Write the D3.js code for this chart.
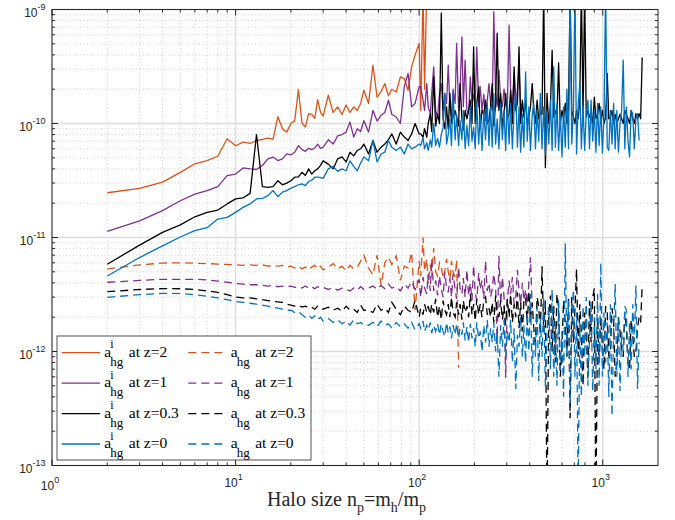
<!DOCTYPE html>
<html>
<head>
<meta charset="utf-8">
<script src="https://cdn.jsdelivr.net/npm/d3@7"></script>
<style>
  body { margin: 0; background: #fff; }
</style>
</head>
<body>
<div id="chart"></div>
<script>
// halo size n_p, shared by every series (each series uses the first values)
const np = [2,3,4,5,6,7,8,9,10,11,12,13,14,15,16,17,18,19,20,
  21,22,23,24,25,26,27,28,29,30,
  32,34,36,38,40,42,44,46,48,50,
  53,56,59,62,65,68,71,75,79,83,87,91,95,100,
  102,105,107,110,112,115,117,120,123,126,
  129,132,135,138,141,144,147,150,153,157,
  160,164,167,171,174,178,182,186,190,194,
  198,202,206,211,215,220,225,230,235,240,
  245,250,255,261,266,272,278,284,290,296,
  302,309,315,322,329,336,343,350,357,365,
  372,380,388,396,404,413,421,430,439,448,
  457,467,477,487,497,508,519,530,541,552,
  563,575,587,600,612,625,638,651,664,678,
  692,706,720,735,750,765,781,797,813,830,
  847,864,882,900,918,937,956,976,996,1016,
  1037,1058,1079,1101,1123,1146,1169,1193,1217,1242,
  1267,1293,1319,1346,1373,1400,1428,1457,1486,1516,
  1547,1578,1609,1640];

// a_hg^i (solid), in units of 1e-12
const aiZ2 = [24.7,27,30.6,37.3,44.3,47.3,51.6,73.5,63.8,68.6,66.8,71,72.4,74.5,73,115,90,84,100,
  106,198,101,93,122,120,111,162,126,116,
  177,125,140,120,145,125,140,130,150,196,
  150,325,170,190,224,175,200,189,256,248,196,314,398,504,
  130,1500,200,1500];
const aiZ1 = [11.3,14,17.2,21,24,25.8,27.9,34.9,36,40.8,40,39.5,42.8,49,50.8,47.3,49,54.2,53,
  56,64,59,57,60.6,59,61,66,60.6,62,
  72,66,78,80,84,103,76,90,85,106,
  84,130,105,118,125,160,120,114,100,210,275,140,150,210,
  210,160,130,224,140,122,180,314,130,114,
  180,224,130,184,150,325,140,114,200,150,
  504,130,200,576,140,360,130,122,256,150,
  180,140,470,140,210,130,180,106,160,224,
  150,130,956,183,140,294,160,140,200,150,
  130,730,184,140,275,130,200,314,140,150];
const aiZ03 = [5.83,8.57,11.1,12.9,15.2,16.6,17.4,19.7,21.8,22.3,24.4,80,27.9,27.5,27.9,31.5,29,30,31.5,
  33.8,34,37.3,35,40,36,38.5,40,43,47,
  44,40,49,51,46,56,52,58,60,66,
  54,71,56,62,66,72,81,66,84,76,71,81,100,81,
  81,76,90,76,100,122,85,256,95,122,
  100,930,110,90,140,90,184,100,114,130,
  114,95,224,110,88,130,110,130,160,100,
  470,100,150,210,90,130,120,160,100,106,
  140,224,95,150,620,130,184,92,122,184,
  110,122,196,100,314,130,150,470,100,160,
  114,160,100,114,140,224,130,100,160,110,
  130,120,1500,41,184,100,140,440,114,130,
  114,340,100,130,110,150,100,130,1500,130,
  114,100,130,110,160,1500,120,1500,114,130,
  114,122,100,170,110,120,150,110,130,100,
  114,275,110,114,130,100,120,100,110,120,
  110,100,130,120,110,100,130,110,100,122,
  110,122,110,380];
const aiZ0 = [4.6,6.67,8.45,10.1,11.5,12.2,14.5,15,16.6,18.4,19.7,21.8,22,23.3,25.8,22.8,25,25.8,27.1,
  27.9,29,29.5,28.5,31,31.8,33.8,33.8,33.5,33,
  40,42,38,40,38.5,47,42,38.5,45,51,
  47,71,46,54,56,71,62,58,62,54,66,60,62,66,
  64,75,60,68,58,72,62,100,64,74,
  62,80,92,184,66,80,110,64,188,72,
  120,64,106,72,130,60,96,64,140,70,
  93,60,150,66,120,58,130,72,150,64,
  140,62,184,66,110,60,150,72,130,58,
  160,66,150,60,130,184,62,140,56,120,
  62,283,70,140,58,120,150,60,130,70,
  184,60,140,54,130,66,160,58,314,62,
  150,58,120,51,140,62,200,60,1500,66,
  130,1500,54,150,224,60,140,58,120,160,
  60,160,70,130,56,150,64,140,55,120,
  1500,62,58,130,66,150,60,130,56,100,
  130,360,60,140,70,51,130,122,60,110,
  122,71];

// a_hg (dashed), in units of 1e-12
const aZ2 = [5.3,5.75,5.97,6.0,5.95,5.9,5.85,5.8,5.75,5.7,5.75,5.7,5.75,5.6,5.7,5.6,5.7,5.5,5.6,
  5.4,5.6,5.3,5.5,5.2,5.5,5.7,5.3,5.6,5.2,
  5.5,5.9,5.3,5.6,5.1,5.7,5.3,5.5,6.2,7.0,
  5.4,4.7,7.0,3.8,6.0,6.7,5.8,6.9,4.2,5.6,5.4,7.4,2.3,6.2,
  4.6,10,5.1,6.5,3.9,5.8,4.5,8.1,5.0,4.6,
  6.0,5.5,4.4,5.1,6.5,5.0,4.3,6.2,5.0,4.5,
  6.4,0.72];
const aZ1 = [4.05,4.2,4.3,4.3,4.3,4.25,4.15,4.05,3.95,3.9,3.85,3.85,3.8,3.75,3.8,3.7,3.75,3.7,3.75,
  3.65,3.7,3.6,3.75,3.6,3.7,3.55,3.7,3.6,3.65,
  3.5,3.65,3.45,3.6,3.5,3.4,3.6,3.45,3.7,3.5,
  3.6,3.75,3.5,3.8,3.55,3.9,3.6,3.7,3.4,3.9,3.6,4.1,3.5,4.3,
  3.0,4.5,3.6,3.2,4.8,3.4,6.5,3.4,4.2,3.1,
  4.6,3.5,3.0,5.0,3.6,3.3,4.4,3.0,4.8,3.5,
  2.9,5.5,3.6,3.2,4.4,3.0,5.2,3.1,4.0,2.8,
  5.7,3.3,2.8,4.9,3.5,4.2,2.9,6.2,3.4,4.0,
  3.0,3.5,4.8,3.6,1.15,6.9,2.6,4.5,3.0,0.59,
  2.7,4.2,3.2,4.5,2.6,3.0,5.2,3.4,2.6,4.0,
  2.8,3.5,2.6,4.0,6.7,2.4];
const aZ03 = [3.35,3.5,3.56,3.55,3.5,3.4,3.3,3.15,3.0,2.95,2.95,2.9,2.85,2.8,2.75,2.73,2.7,2.6,2.55,
  2.5,2.55,2.45,2.5,2.4,2.45,2.35,2.5,2.4,2.35,
  2.45,2.3,2.4,2.25,2.5,2.3,2.35,2.2,2.55,2.3,
  2.3,2.2,2.6,2.3,2.4,2.2,2.7,2.35,2.1,2.5,2.3,2.2,2.8,2.0,
  2.4,2.1,2.6,2.2,2.5,2.1,2.6,2.2,2.9,2.0,
  2.5,1.9,2.8,2.3,2.1,2.6,2.0,3.0,2.2,2.0,
  2.7,2.1,2.6,1.9,2.8,2.2,2.5,2.0,3.2,2.1,
  2.6,1.85,2.9,2.1,2.6,2.0,2.8,3.0,2.1,2.4,
  2.0,2.7,1.8,3.1,2.2,2.0,2.8,1.9,2.5,1.7,
  2.9,2.0,3.2,1.8,2.6,2.0,3.3,1.6,2.7,1.5,
  2.8,3.0,1.7,3.4,1.9,2.7,1.6,1.2,3.0,2.5,
  1.4,5.6,1.5,2.8,0.04,2.0,3.1,1.0,2.5,0.8,
  3.2,2.4,0.6,1.1,2.8,1.8,0.9,3.0,0.26,3.0,
  1.2,2.4,5.3,0.9,2.6,1.4,0.5,2.2,1.5,0.6,
  2.8,1.2,3.0,3.6,0.04,2.0,0.8,2.0,1.1,0.7,
  2.5,2.2,0.9,1.0,2.4,1.8,0.6,0.8,2.0,1.5,
  1.0,0.9,2.2,1.6,0.8,0.7,1.9,1.4,0.9,1.0,
  1.6,2.0,1.8,3.8];
const aZ0 = [2.99,3.15,3.24,3.22,3.15,3.05,2.95,2.85,2.75,2.7,2.65,2.6,2.55,2.5,2.45,2.4,2.35,2.3,2.3,
  2.2,2.25,2.1,2.0,2.1,1.95,2.05,1.9,2.0,1.85,
  1.95,1.8,1.9,1.75,1.85,1.7,1.9,1.75,1.8,1.7,
  1.7,1.8,1.65,1.85,1.7,1.75,1.6,1.8,1.65,1.75,1.6,1.8,1.55,1.75,
  1.6,1.85,1.5,1.7,1.55,1.8,1.45,1.7,1.5,1.75,
  1.4,1.75,1.5,1.35,1.8,1.45,1.65,1.3,1.7,1.4,
  1.75,1.3,1.6,1.4,1.8,1.25,1.65,1.2,1.75,1.3,
  1.6,1.1,1.8,1.3,1.5,1.0,1.7,1.2,1.9,1.1,
  1.6,1.2,1.8,1.0,1.5,0.6,1.7,1.1,1.9,0.9,
  1.5,1.2,1.9,0.8,1.6,0.47,1.4,1.1,2.0,0.9,
  1.7,0.8,2.2,1.0,3.2,0.6,1.6,0.9,2.5,0.55,
  2.0,0.9,3.0,0.5,1.5,2.5,0.7,3.5,0.6,1.8,
  0.5,2.8,0.7,1.5,0.4,8.9,0.9,2.8,0.35,1.6,
  3.5,0.6,2.2,0.06,1.8,0.4,2.5,0.9,3.0,0.5,
  1.3,2.8,0.45,2.0,0.7,3.2,0.5,6.0,0.6,2.2,
  0.8,1.8,0.4,2.6,0.27,1.5,3.9,0.6,2.0,0.45,
  1.5,1.0,2.5,2.3,0.6,1.8,0.7,2.6,1.2,3.8,
  0.47,1.2];

const redshifts = ["2", "1", "0.3", "0"];
const colors = ["#D95319", "#7E2F8E", "#000000", "#0072BD"];
const xTicks = [1, 10, 100, 1000];
const xTickExp = ["0", "1", "2", "3"];
const yTicks = [1e-13, 1e-12, 1e-11, 1e-10, 1e-9];
const yTickExp = ["-13", "-12", "-11", "-10", "-9"];

const width = 675, height = 520;
const L = 52, R = 658, T = 9.5, B = 465.5;

const x = d3.scaleLog().domain([1, 2000]).range([L, R]);
const y = d3.scaleLog().domain([1e-13, 1e-9]).range([B, T]);

const svg = d3.select("#chart").append("svg")
    .attr("width", width)
    .attr("height", height)
    .style("font-family", "'Liberation Sans', Arial, sans-serif");

// minor tick positions (2..9 times each decade)
const minorX = [], minorY = [];
xTicks.forEach(d => { for (let k = 2; k <= 9; k++) if (d * k < 2000) minorX.push(d * k); });
yTicks.slice(0, -1).forEach(d => { for (let k = 2; k <= 9; k++) minorY.push(d * k); });

// grid
const grid = svg.append("g");
grid.selectAll(".gxm").data(minorX).join("line")
    .attr("x1", d => x(d)).attr("x2", d => x(d)).attr("y1", T).attr("y2", B)
    .attr("stroke", "#c4c4c4").attr("stroke-width", 0.8).attr("stroke-dasharray", "1,2.5");
grid.selectAll(".gym").data(minorY).join("line")
    .attr("y1", d => y(d)).attr("y2", d => y(d)).attr("x1", L).attr("x2", R)
    .attr("stroke", "#c4c4c4").attr("stroke-width", 0.8).attr("stroke-dasharray", "1,2.5");
grid.selectAll(".gx").data(xTicks).join("line")
    .attr("x1", d => x(d)).attr("x2", d => x(d)).attr("y1", T).attr("y2", B)
    .attr("stroke", "#dcdcdc").attr("stroke-width", 1.3);
grid.selectAll(".gy").data(yTicks).join("line")
    .attr("y1", d => y(d)).attr("y2", d => y(d)).attr("x1", L).attr("x2", R)
    .attr("stroke", "#dcdcdc").attr("stroke-width", 1.3);

// clip to the axes box
svg.append("clipPath").attr("id", "clip")
  .append("rect").attr("x", L).attr("y", T).attr("width", R - L).attr("height", B - T);

const line = d3.line()
    .x(d => x(d[0]))
    .y(d => y(d[1] * 1e-12));

const solid = [aiZ2, aiZ1, aiZ03, aiZ0];
const dashed = [aZ2, aZ1, aZ03, aZ0];

const plot = svg.append("g").attr("clip-path", "url(#clip)");
for (let i = 0; i < 4; i++) {
  plot.append("path")
      .datum(d3.zip(np.slice(0, solid[i].length), solid[i]))
      .attr("fill", "none")
      .attr("stroke", colors[i])
      .attr("stroke-width", 1.3)
      .attr("stroke-linejoin", "round")
      .attr("d", line);
  plot.append("path")
      .datum(d3.zip(np.slice(0, dashed[i].length), dashed[i]))
      .attr("fill", "none")
      .attr("stroke", colors[i])
      .attr("stroke-width", 1.3)
      .attr("stroke-dasharray", "8,5")
      .attr("d", line);
}

// box and inward ticks on all four sides
const ax = svg.append("g").attr("stroke", "#262626").attr("stroke-width", 1);
ax.append("rect").attr("x", L).attr("y", T).attr("width", R - L).attr("height", B - T).attr("fill", "none");
function ticksX(vals, len) {
  ax.append("g").selectAll("line").data(vals).join("line")
    .attr("x1", d => x(d)).attr("x2", d => x(d)).attr("y1", B).attr("y2", B - len);
  ax.append("g").selectAll("line").data(vals).join("line")
    .attr("x1", d => x(d)).attr("x2", d => x(d)).attr("y1", T).attr("y2", T + len);
}
function ticksY(vals, len) {
  ax.append("g").selectAll("line").data(vals).join("line")
    .attr("y1", d => y(d)).attr("y2", d => y(d)).attr("x1", L).attr("x2", L + len);
  ax.append("g").selectAll("line").data(vals).join("line")
    .attr("y1", d => y(d)).attr("y2", d => y(d)).attr("x1", R).attr("x2", R - len);
}
ticksX(xTicks, 6); ticksX(minorX, 3);
ticksY(yTicks, 6); ticksY(minorY, 3);

// tick labels (10^0 sits a little lower, clear of 10^-13)
const xl = svg.append("g").attr("fill", "#262626").attr("font-size", 12);
xTicks.forEach((d, i) => {
  const t = xl.append("text").attr("x", x(d) - 2).attr("y", i === 0 ? B + 24.5 : B + 21.5)
      .attr("text-anchor", "middle");
  t.append("tspan").text("10");
  t.append("tspan").attr("dy", -7).attr("font-size", 9).text(xTickExp[i]);
});
yTicks.forEach((d, i) => {
  const t = xl.append("text").attr("x", 45.5).attr("y", y(d) + 7.5).attr("text-anchor", "end");
  t.append("tspan").text("10");
  t.append("tspan").attr("dy", -7).attr("font-size", 9).text(yTickExp[i]);
});

// x axis label
const serif = "'Liberation Serif', 'Times New Roman', serif";
const xlab = svg.append("text").attr("x", 267).attr("y", 506)
    .style("font-family", serif).attr("font-size", 20).attr("fill", "#262626");
xlab.append("tspan").text("Halo size n");
xlab.append("tspan").attr("dy", 6).attr("font-size", 14).text("p");
xlab.append("tspan").attr("dy", -6).text("=m");
xlab.append("tspan").attr("dy", 6).attr("font-size", 14).text("h");
xlab.append("tspan").attr("dy", -6).text("/m");
xlab.append("tspan").attr("dy", 6).attr("font-size", 14).text("p");

// legend
const lg = svg.append("g");
lg.append("rect").attr("x", 57).attr("y", 336).attr("width", 254).attr("height", 124)
    .attr("fill", "#fff").attr("stroke", "#262626").attr("stroke-width", 0.8);
const rowY = d3.scaleLinear().domain([0, 3]).range([352.7, 444]);
redshifts.forEach((z, i) => {
  const yy = rowY(i);
  [[61.7, 100, null, 104.3, true], [188.3, 226.5, "8,5", 230.7, false]].forEach(([x1, x2, dash, tx, sup]) => {
    lg.append("line").attr("x1", x1).attr("x2", x2).attr("y1", yy).attr("y2", yy)
        .attr("stroke", colors[i]).attr("stroke-width", 1.3).attr("stroke-dasharray", dash);
    const g = lg.append("g").style("font-family", serif).attr("fill", "#000");
    g.append("text").attr("x", tx).attr("y", yy + 4).attr("font-size", 15.5).text("a");
    if (sup) g.append("text").attr("x", tx + 6).attr("y", yy - 4.5).attr("font-size", 12).text("i");
    g.append("text").attr("x", tx + 6).attr("y", yy + 13).attr("font-size", 13).text("hg");
    g.append("text").attr("x", tx + 24.5).attr("y", yy + 4).attr("font-size", 15.5).text("at z=" + z);
  });
});
</script>
</body>
</html>
